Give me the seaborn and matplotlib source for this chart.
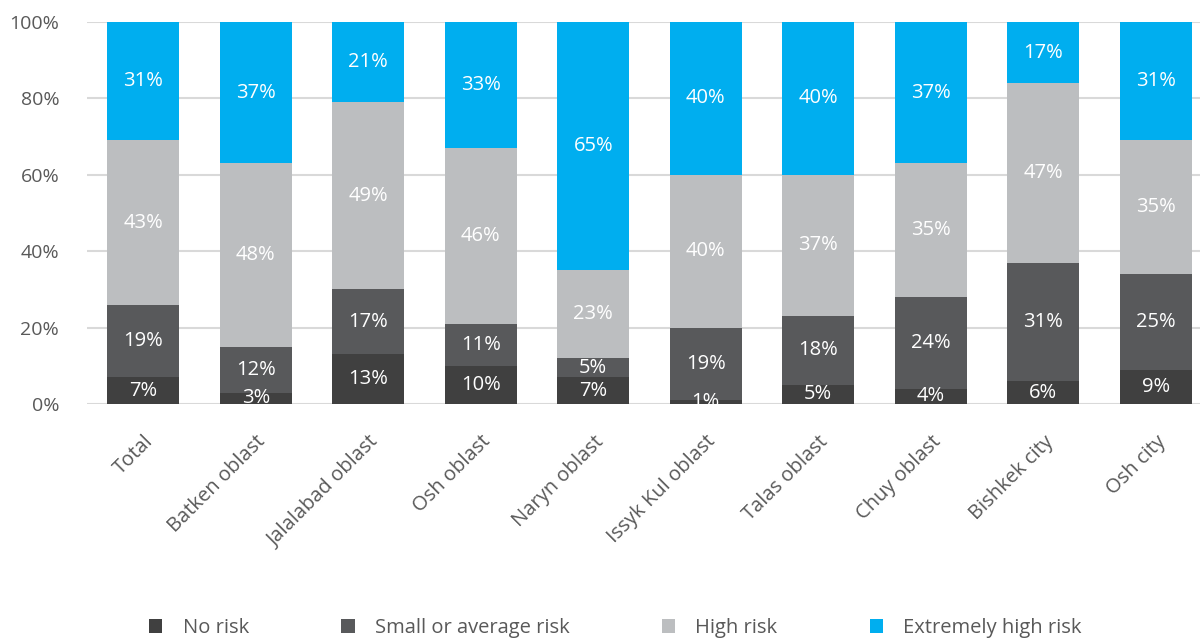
import numpy as np
import pandas as pd
import matplotlib
matplotlib.use("Agg")
import matplotlib.pyplot as plt
import seaborn as sns
from matplotlib.patches import Patch

regions = ["Total", "Batken oblast", "Jalalabad oblast", "Osh oblast", "Naryn oblast",
           "Issyk Kul oblast", "Talas oblast", "Chuy oblast", "Bishkek city", "Osh city"]
no_risk = [7, 3, 13, 10, 7, 1, 5, 4, 6, 9]
small_risk = [19, 12, 17, 11, 5, 19, 18, 24, 31, 25]
high_risk = [43, 48, 49, 46, 23, 40, 37, 35, 47, 35]
extreme_risk = [31, 37, 21, 33, 65, 40, 40, 37, 17, 31]

series_names = ["No risk", "Small or average risk", "High risk", "Extremely high risk"]
series_values = [no_risk, small_risk, high_risk, extreme_risk]
colors = ["#404040", "#58595b", "#bcbec0", "#00aeef"]

sns.set_theme(style="white")
plt.rcParams["font.family"] = ["Open Sans", "DejaVu Sans"]

fig = plt.figure(figsize=(12, 6.39), dpi=100)
ax = fig.add_axes([0.0725, 0.3678, 0.9375, 0.5978])

vals = np.array(series_values, dtype=float)
cum = np.cumsum(vals, axis=0)

# Draw cumulative layers from the top down so each lower layer overlays the previous
for i in range(len(series_names) - 1, -1, -1):
    df = pd.DataFrame({"region": regions, "value": cum[i]})
    sns.barplot(data=df, x="region", y="value", order=regions, color=colors[i],
                saturation=1, width=0.64, ax=ax, zorder=2, linewidth=0)

# Segment labels, centred on the visible part of each segment
for i in range(len(series_names)):
    bottoms = cum[i] - vals[i]
    for j, v in enumerate(vals[i]):
        top = min(bottoms[j] + v, 100)
        ax.text(j, (bottoms[j] + top) / 2, f"{int(v)}%", ha="center", va="center",
                color="white", fontsize=14.5, zorder=3)

ax.set_ylim(0, 100)
ax.set_xlim(-0.5, len(regions) - 0.5)
ax.set_yticks(range(0, 101, 20))
ax.set_yticklabels([f"{t}%" for t in range(0, 101, 20)], color="#595959", fontsize=14)
ax.set_xticks(range(len(regions)))
ax.set_xticklabels(regions, rotation=45, ha="right", rotation_mode="anchor",
                   color="#595959", fontsize=14.5)
ax.tick_params(axis="y", length=0, pad=20)
ax.tick_params(axis="x", length=0, pad=20)
ax.set_xlabel("")
ax.set_ylabel("")
ax.yaxis.grid(True, color="#d9d9d9", linewidth=1.5, zorder=0)
ax.xaxis.grid(False)
for s in ax.spines.values():
    s.set_visible(False)
ax.set_axisbelow(True)

handles = [Patch(facecolor=c, edgecolor="none") for c in colors]
fig.legend(handles, series_names, loc="center", bbox_to_anchor=(0.513, 0.017),
           ncol=4, frameon=False, fontsize=14.5, labelcolor="#595959",
           handlelength=0.65, handleheight=0.65, columnspacing=4.6, handletextpad=1.0)

fig.savefig("out.png", dpi=100)
